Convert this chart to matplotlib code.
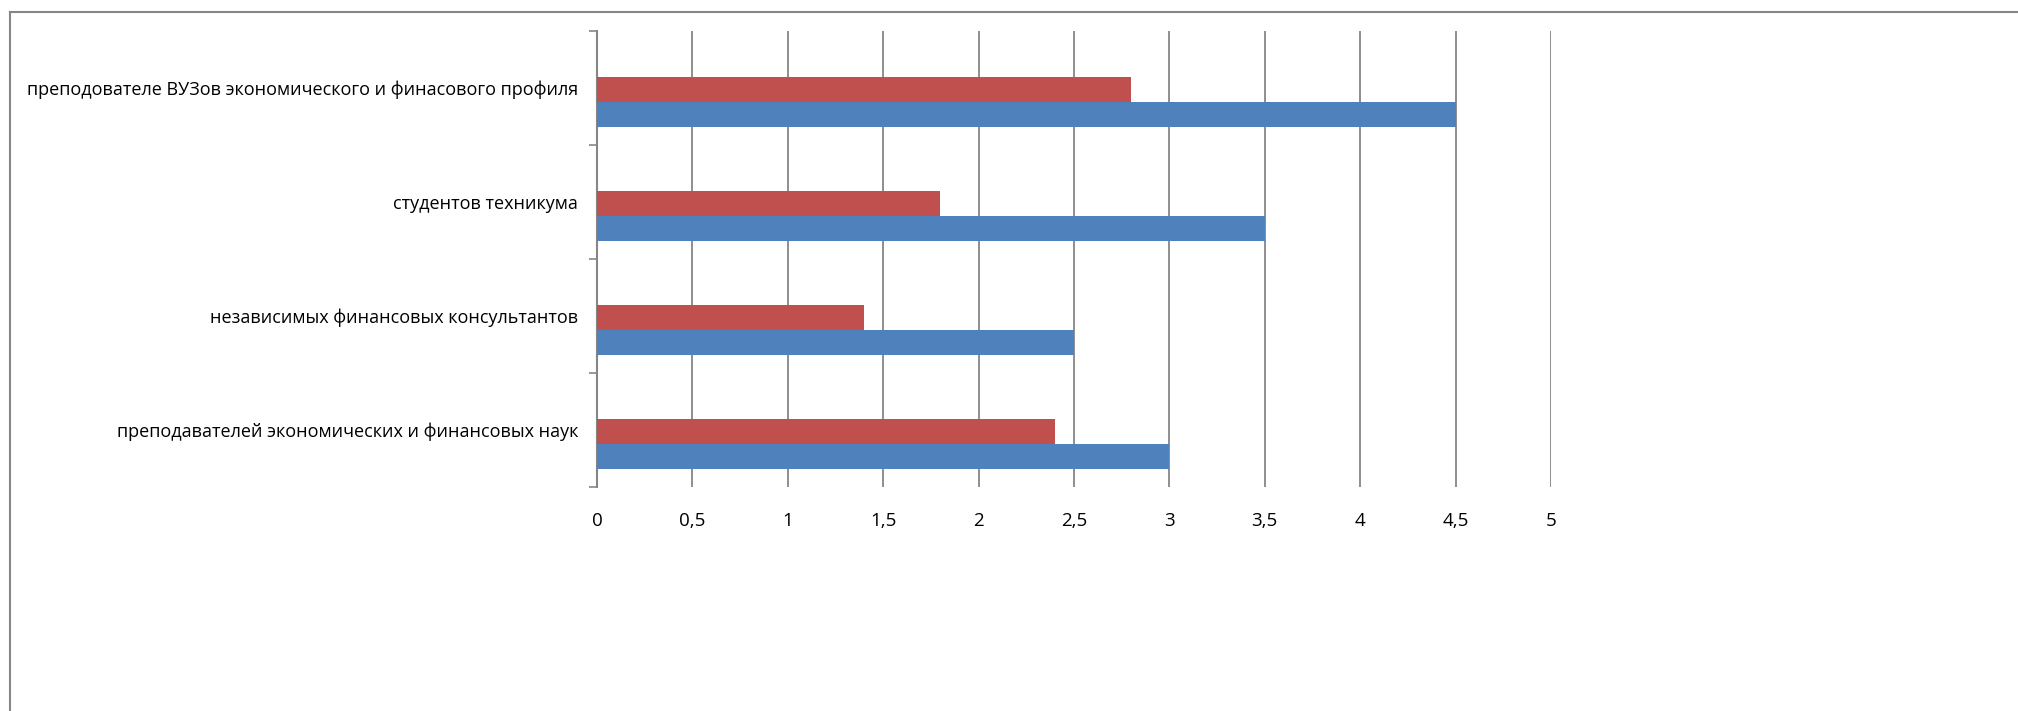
import matplotlib.pyplot as plt
from matplotlib.lines import Line2D
import numpy as np

categories = ['преподавателей экономических и финансовых наук',
              'независимых финансовых консультантов',
              'студентов техникума',
              'преподователе ВУЗов экономического и финасового профиля']
blue_vals = [3, 2.5, 3.5, 4.5]
red_vals = [2.4, 1.4, 1.8, 2.8]
xticks = [0, 0.5, 1, 1.5, 2, 2.5, 3, 3.5, 4, 4.5, 5]
xlabels = ['0', '0,5', '1', '1,5', '2', '2,5', '3', '3,5', '4', '4,5', '5']

plt.rcParams['font.family'] = ['Open Sans', 'DejaVu Sans']

fig = plt.figure(figsize=(20.18, 7.11), dpi=100)
ax = fig.add_axes([597/2018, 1-487/711, (1551-597)/2018, (487-31)/711])

y = np.arange(len(categories))
h = 0.22
ax.barh(y - 0.01, red_vals, height=h, color='#C0504D', zorder=3)
ax.barh(y - 0.01 - h, blue_vals, height=h, color='#4F81BD', zorder=3)

ax.set_xlim(0, 5)
ax.set_ylim(-0.5, 3.5)
ax.set_xticks(xticks)
ax.set_xticklabels(xlabels, fontsize=13.5)
ax.set_yticks(y)
ax.set_yticklabels(categories, fontsize=13)
ax.set_yticks(np.arange(-0.5, 4, 1), minor=True)
ax.tick_params(axis='y', which='major', length=0, pad=13.5)
ax.tick_params(axis='y', which='minor', length=6, width=1.2, color='#868686')
ax.tick_params(axis='x', length=0, pad=18)

ax.grid(True, axis='x', color='#868686', linewidth=1.3, zorder=0)
for s in ['top', 'right', 'bottom']:
    ax.spines[s].set_visible(False)
ax.spines['left'].set_color('#868686')
ax.spines['left'].set_linewidth(1.5)

# outer chart frame (only top and left visible)
fig.add_artist(Line2D([10/2018, 1], [1-12/711, 1-12/711], color='#868686', linewidth=1.5))
fig.add_artist(Line2D([10/2018, 10/2018], [0, 1-12/711], color='#868686', linewidth=1.5))

fig.savefig('out.png', dpi=100)
